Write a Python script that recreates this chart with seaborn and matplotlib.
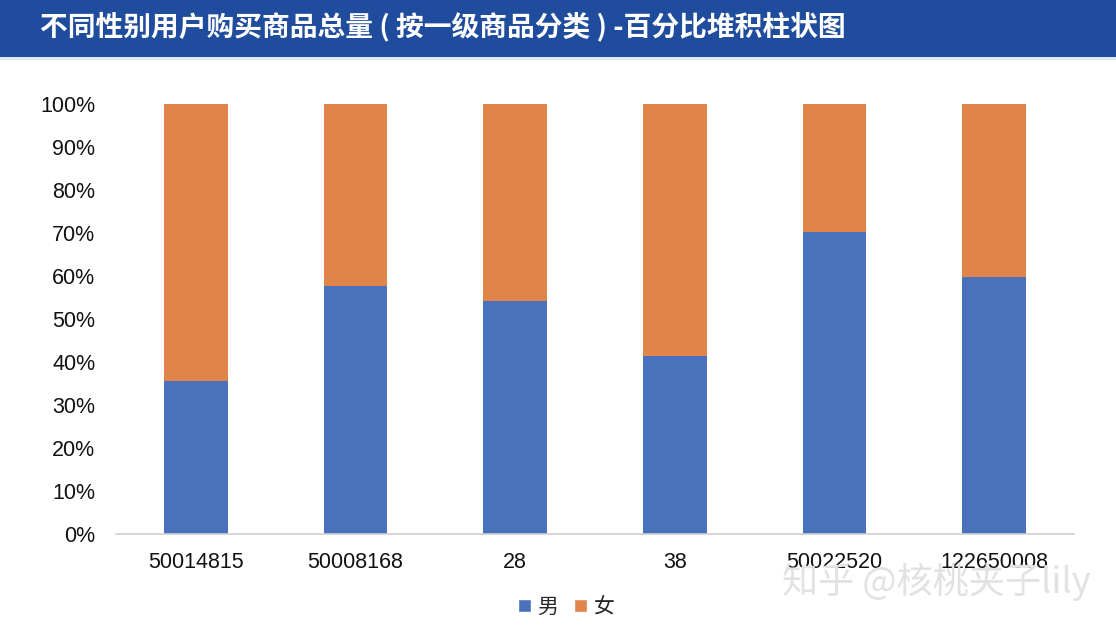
import numpy as np
import pandas as pd
import matplotlib
matplotlib.use("Agg")
import matplotlib.pyplot as plt
from matplotlib.patches import Rectangle
from matplotlib.ticker import PercentFormatter
import seaborn as sns

# data (share of purchases, %)
categories = ["50014815", "50008168", "28", "38", "50022520", "122650008"]
male_pct = [35.6, 57.7, 54.2, 41.4, 70.2, 59.8]
female_pct = [64.4, 42.3, 45.8, 58.6, 29.8, 40.2]
series_names = ["男", "女"]
title = "不同性别用户购买商品总量 ( 按一级商品分类 ) -百分比堆积柱状图"

BLUE = "#4A71BC"
ORANGE = "#E0844A"
CJK = ["Noto Sans CJK SC", "DejaVu Sans"]

sns.set_theme(style="white")
plt.rcParams["font.family"] = ["Liberation Sans", "Noto Sans CJK SC", "DejaVu Sans"]

df = pd.DataFrame({"cat": categories, "male": male_pct, "female": female_pct})
df["total"] = df["male"] + df["female"]

fig = plt.figure(figsize=(11.16, 6.32), dpi=100)

# title band
fig.patches.append(Rectangle((0, 1 - 57 / 632), 1, 57 / 632, transform=fig.transFigure,
                             facecolor="#1F4C9C", edgecolor="none", zorder=0))
fig.patches.append(Rectangle((0, 1 - 60 / 632), 1, 3 / 632, transform=fig.transFigure,
                             facecolor="#D8ECF4", edgecolor="none", zorder=0))
fig.text(40 / 1116, 1 - 27 / 632, title, color="white", fontsize=20, fontweight="bold",
         family=CJK, va="center", ha="left")

ax = fig.add_axes([116 / 1116, 1 - 534 / 632, (1074 - 116) / 1116, (534 - 104) / 632])

sns.barplot(data=df, x="cat", y="total", color=ORANGE, width=0.4, saturation=1,
            linewidth=0, ax=ax)
sns.barplot(data=df, x="cat", y="male", color=BLUE, width=0.4, saturation=1,
            linewidth=0, ax=ax)

ax.set_ylim(0, 100)
ax.set_yticks(np.arange(0, 101, 10))
ax.yaxis.set_major_formatter(PercentFormatter(100, decimals=0))
ax.set_xlim(-0.5, len(categories) - 0.5)
ax.set_xlabel("")
ax.set_ylabel("")
for s in ["top", "right", "left"]:
    ax.spines[s].set_visible(False)
ax.spines["bottom"].set_color("#D0D0D0")
ax.spines["bottom"].set_linewidth(1.2)
ax.tick_params(axis="both", length=0, labelsize=15.5, colors="#111111")
ax.tick_params(axis="y", pad=15)
ax.tick_params(axis="x", pad=13)

# legend
handles = [Rectangle((0, 0), 1, 1, facecolor=BLUE), Rectangle((0, 0), 1, 1, facecolor=ORANGE)]
fig.legend(handles, series_names, loc="center", bbox_to_anchor=(566 / 1116, 1 - 607 / 632),
           ncol=2, frameon=False, handlelength=0.6, handleheight=0.6,
           handletextpad=0.3, columnspacing=0.8,
           prop={"family": CJK, "size": 15})

# watermark
fig.text(936 / 1116, 1 - 582 / 632, "知乎 @核桃夹子lily", color="#E2E2E2", fontsize=26,
         family=CJK, ha="center", va="center")

fig.savefig("out.png", dpi=100)
